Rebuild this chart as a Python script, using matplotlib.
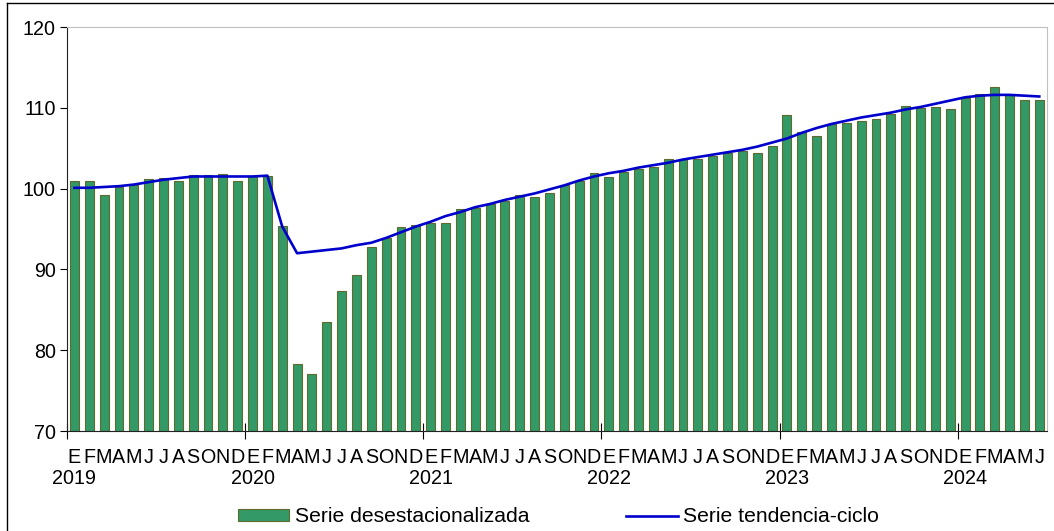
import numpy as np
import matplotlib.pyplot as plt
from matplotlib.lines import Line2D

plt.rcParams['font.family'] = ['Liberation Sans', 'DejaVu Sans']

meses = ['E', 'F', 'M', 'A', 'M', 'J', 'J', 'A', 'S', 'O', 'N', 'D']
anios = ['2019', '2020', '2021', '2022', '2023', '2024']

# serie desestacionalizada, ene 2019 - jun 2024
desest = [101.0, 101.0, 99.2, 100.2, 100.4, 101.2, 101.3, 100.9, 101.7, 101.7, 101.8, 101.0,
          101.5, 101.5, 95.4, 78.3, 77.1, 83.5, 87.3, 89.3, 92.8, 93.9, 95.2, 95.5,
          95.7, 95.7, 97.5, 97.6, 98.1, 98.5, 99.2, 98.9, 99.4, 100.5, 100.9, 101.9,
          101.4, 102.0, 102.4, 102.7, 103.7, 103.7, 103.7, 104.0, 104.4, 104.6, 104.4, 105.3,
          109.1, 107.0, 106.5, 108.0, 108.1, 108.4, 108.6, 109.2, 110.2, 110.0, 110.1, 109.9,
          111.2, 111.7, 112.6, 111.6, 111.0, 111.0]

# serie tendencia-ciclo
tendencia = [100.1, 100.1, 100.2, 100.3, 100.5, 100.8, 101.1, 101.3, 101.5, 101.5, 101.5, 101.5,
             101.5, 101.6, 95.3, 92.0, 92.2, 92.4, 92.6, 93.0, 93.3, 93.9, 94.6, 95.3,
             95.9, 96.6, 97.1, 97.7, 98.1, 98.6, 99.0, 99.4, 99.9, 100.4, 101.0, 101.5,
             101.9, 102.2, 102.6, 102.9, 103.2, 103.6, 103.9, 104.2, 104.5, 104.8, 105.2, 105.7,
             106.2, 106.9, 107.5, 108.0, 108.4, 108.8, 109.1, 109.4, 109.8, 110.1, 110.5, 110.9,
             111.3, 111.5, 111.6, 111.6, 111.5, 111.4]

n = len(desest)
x = np.arange(n) + 0.5
fs = 14.2

fig = plt.figure(figsize=(10.54, 5.31), dpi=100)
ax = fig.add_axes([67/1054, 100/531, 979.7/1054, 404/531])

barras = ax.bar(x, desest, width=0.6, color='#339966', edgecolor='#5f6b2e', linewidth=0.8,
                label='Serie desestacionalizada', zorder=2)
linea, = ax.plot(x, tendencia, color='#0000cc', lw=1.9, label='Serie tendencia-ciclo', zorder=3)

ax.set_xlim(0, n)
ax.set_ylim(70, 120)
ax.set_yticks([70, 80, 90, 100, 110, 120])
ax.tick_params(axis='y', labelsize=fs, length=5, width=0.8, pad=3)

ax.set_xticks(np.arange(0, n, 12))
ax.set_xticklabels([])
ax.tick_params(axis='x', direction='inout', length=12, width=0.8)

for i in range(n):
    ax.text(x[i], -0.066, meses[i % 12], transform=ax.get_xaxis_transform(),
            ha='center', va='center', fontsize=fs)
for k, a in enumerate(anios):
    ax.text(x[k * 12], -0.118, a, transform=ax.get_xaxis_transform(),
            ha='center', va='center', fontsize=fs)

for s in ['top', 'right']:
    ax.spines[s].set_color('#c0c0c0')
for s in ['left', 'bottom']:
    ax.spines[s].set_color('#222222')
    ax.spines[s].set_linewidth(0.8)

fig.legend(handles=[barras, linea], loc='center', bbox_to_anchor=(0.53, 14/531), ncol=2,
           frameon=False, fontsize=15.2, handlelength=2.42, columnspacing=4.6,
           handletextpad=0.28, handleheight=0.5)

# marco del grafico
fig.add_artist(Line2D([7/1054, 1], [1 - 3/531, 1 - 3/531], color='black', lw=1))
fig.add_artist(Line2D([7/1054, 7/1054], [0, 1 - 3/531], color='black', lw=1))

fig.savefig('out.png', dpi=100)
